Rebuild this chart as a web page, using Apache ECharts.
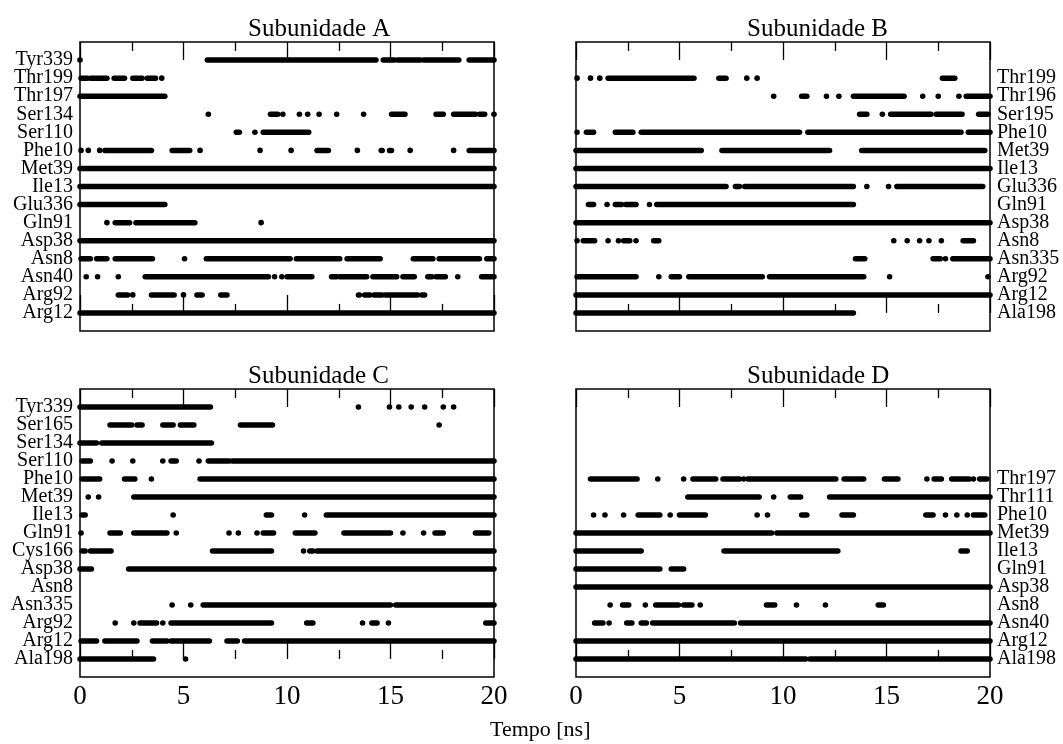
<!DOCTYPE html>
<html>
<head>
<meta charset="utf-8">
<script src="https://cdn.jsdelivr.net/npm/echarts@6/dist/echarts.min.js"></script>
<style>
  html, body { margin: 0; padding: 0; background: #fff; }
  #chart { width: 1063px; height: 744px; }
</style>
</head>
<body>
<div id="chart"></div>
<script>
// residues, listed bottom row first; contacts are [start, end] in ns (start == end is a single frame)
const namesA = ['Arg12', 'Arg92', 'Asn40', 'Asn8', 'Asp38', 'Gln91', 'Glu336', 'Ile13', 'Met39', 'Phe10', 'Ser110', 'Ser134', 'Thr197', 'Thr199', 'Tyr339'];
const contactsA = [
  [[0, 20]],
  [[1.85, 2.3], [2.55, 2.55], [3.45, 4.55], [5.0, 5.0], [5.65, 5.9], [6.8, 7.1], [13.45, 13.5], [13.75, 14.0], [14.2, 14.6], [14.75, 16.3], [16.5, 16.65]],
  [[0.3, 0.3], [0.85, 0.85], [1.85, 1.85], [3.15, 9.1], [9.4, 9.4], [9.75, 9.75], [10.0, 11.2], [12.15, 12.4], [12.55, 13.85], [14.15, 15.3], [15.6, 16.15], [16.8, 17.0], [17.2, 17.65], [18.25, 18.25], [19.4, 20]],
  [[0.05, 0.5], [0.8, 1.3], [1.7, 3.5], [5.05, 5.05], [6.1, 10.15], [10.45, 12.55], [12.9, 14.5], [16.1, 17.05], [17.35, 19.3], [19.65, 20]],
  [[0, 20]],
  [[1.3, 1.3], [1.7, 2.4], [2.7, 5.55], [8.75, 8.75]],
  [[0, 4.1]],
  [[0, 20]],
  [[0, 20]],
  [[0.05, 0.05], [0.4, 0.4], [0.95, 0.95], [1.2, 3.45], [4.45, 5.3], [5.8, 5.8], [8.7, 8.7], [10.2, 10.2], [11.45, 12.0], [13.4, 13.4], [14.55, 14.6], [14.95, 15.05], [15.95, 15.95], [18.05, 18.05], [18.8, 20]],
  [[7.55, 7.7], [8.45, 8.45], [8.85, 11.05]],
  [[6.2, 6.2], [9.2, 9.55], [9.8, 9.8], [10.6, 10.6], [11.0, 11.0], [11.55, 11.55], [12.4, 12.4], [13.7, 13.7], [15.05, 15.7], [17.2, 17.55], [18.05, 19.1], [19.3, 19.55], [20, 20]],
  [[0, 4.1]],
  [[0.05, 0.35], [0.5, 1.3], [1.65, 2.15], [2.55, 3.0], [3.25, 3.65], [3.95, 3.95]],
  [[0, 0], [6.15, 14.3], [14.65, 15.2], [15.35, 16.45], [16.6, 18.3], [18.8, 20]]
];

const namesB = ['Ala198', 'Arg12', 'Arg92', 'Asn335', 'Asn8', 'Asp38', 'Gln91', 'Glu336', 'Ile13', 'Met39', 'Phe10', 'Ser195', 'Thr196', 'Thr199'];
const contactsB = [
  [[0, 13.4]],
  [[0, 20]],
  [[0.05, 2.9], [4.0, 4.0], [4.6, 5.0], [5.45, 9.0], [9.35, 13.9], [15.15, 15.15], [19.9, 19.9]],
  [[13.5, 13.95], [17.25, 17.6], [17.85, 17.85], [18.2, 20]],
  [[0.05, 0.05], [0.35, 0.9], [1.55, 1.55], [2.05, 2.05], [2.3, 2.6], [2.9, 2.9], [3.75, 4.0], [15.35, 15.35], [16.0, 16.0], [16.6, 16.6], [17.05, 17.05], [17.65, 17.65], [18.7, 19.2]],
  [[0, 20]],
  [[0.6, 0.85], [1.5, 1.5], [1.9, 2.2], [2.4, 2.9], [3.55, 3.55], [3.9, 13.4]],
  [[0, 7.25], [7.7, 7.9], [8.15, 13.4], [14.05, 14.05], [15.1, 15.1], [15.5, 19.65]],
  [[0, 20]],
  [[0, 6.05], [7.05, 12.25], [13.8, 19.75]],
  [[0.05, 0.05], [0.5, 0.85], [1.9, 2.75], [3.15, 10.8], [11.2, 18.6], [18.95, 20]],
  [[13.7, 14.05], [14.8, 14.8], [15.2, 17.15], [17.4, 18.65], [19.45, 19.9]],
  [[9.55, 9.55], [10.9, 11.15], [12.1, 12.1], [12.7, 12.7], [13.4, 15.85], [16.75, 16.75], [17.5, 17.5], [18.5, 18.5], [18.85, 20]],
  [[0.05, 0.05], [0.7, 0.7], [1.15, 1.15], [1.55, 5.7], [6.9, 7.25], [8.25, 8.25], [8.75, 8.75], [17.7, 18.3]]
];

const namesC = ['Ala198', 'Arg12', 'Arg92', 'Asn335', 'Asn8', 'Asp38', 'Cys166', 'Gln91', 'Ile13', 'Met39', 'Phe10', 'Ser110', 'Ser134', 'Ser165', 'Tyr339'];
const contactsC = [
  [[0, 3.55], [5.1, 5.1]],
  [[0.05, 0.8], [1.2, 2.75], [3.5, 4.2], [4.4, 6.25], [7.1, 7.6], [7.95, 20]],
  [[1.7, 1.7], [2.6, 2.6], [2.9, 3.7], [4.0, 4.0], [4.4, 9.25], [10.95, 11.25], [13.65, 13.65], [14.1, 14.35], [14.9, 14.9], [19.6, 20]],
  [[4.45, 4.45], [5.35, 5.35], [5.95, 15.0], [15.25, 20]],
  [],
  [[0, 0.55], [2.35, 20]],
  [[0.1, 0.25], [0.5, 1.5], [6.4, 9.25], [10.8, 10.8], [11.1, 11.25], [11.45, 20]],
  [[0.05, 0.05], [1.45, 1.95], [2.6, 4.2], [4.65, 4.65], [7.2, 7.2], [7.65, 7.65], [8.55, 8.55], [8.85, 9.35], [10.4, 11.35], [12.75, 15.0], [15.6, 15.6], [16.6, 16.6], [17.15, 17.55], [19.1, 19.75]],
  [[0.1, 0.25], [4.5, 4.5], [9.0, 9.25], [10.85, 10.85], [11.9, 20]],
  [[0.4, 0.4], [0.9, 0.9], [2.6, 20]],
  [[0.1, 0.95], [2.15, 2.65], [3.45, 3.45], [5.8, 20]],
  [[0.1, 0.5], [1.55, 1.55], [2.55, 2.55], [4.0, 4.0], [4.4, 4.65], [5.75, 5.75], [6.2, 7.2], [7.35, 20]],
  [[0, 0.8], [1.05, 6.35]],
  [[1.45, 2.5], [2.75, 3.0], [4.0, 4.5], [4.85, 5.5], [7.75, 9.3], [17.35, 17.35]],
  [[0, 6.3], [13.45, 13.45], [14.95, 14.95], [15.4, 15.4], [16.0, 16.0], [16.65, 16.65], [17.55, 17.55], [18.05, 18.05]]
];

const namesD = ['Ala198', 'Arg12', 'Asn40', 'Asn8', 'Asp38', 'Gln91', 'Ile13', 'Met39', 'Phe10', 'Thr111', 'Thr197'];
const contactsD = [
  [[0, 11.1], [11.3, 20]],
  [[0, 20]],
  [[0.9, 1.3], [1.6, 1.6], [2.45, 2.7], [3.15, 3.4], [3.7, 7.65], [7.95, 20]],
  [[1.65, 1.65], [2.25, 2.55], [3.35, 3.35], [3.85, 4.95], [5.2, 5.6], [6.0, 6.0], [9.2, 9.6], [10.65, 10.65], [12.05, 12.05], [14.6, 14.85]],
  [[0, 20]],
  [[0, 4.05], [4.6, 5.2]],
  [[0, 3.15], [7.15, 12.65], [18.6, 18.9]],
  [[0, 9.45], [9.7, 20]],
  [[0.85, 0.85], [1.4, 1.4], [2.3, 2.3], [3.0, 4.05], [4.55, 4.55], [5.0, 6.25], [8.75, 8.75], [9.25, 9.25], [10.9, 11.15], [12.85, 13.4], [16.9, 17.25], [17.85, 17.85], [18.4, 18.4], [18.9, 18.9], [19.2, 19.75]],
  [[5.4, 8.85], [9.55, 9.55], [10.35, 10.85], [12.25, 20]],
  [[0.7, 2.95], [3.95, 3.95], [5.2, 5.2], [5.65, 6.75], [7.1, 7.9], [8.1, 8.1], [8.3, 12.55], [12.95, 13.9], [14.9, 15.55], [16.95, 16.95], [17.3, 17.65], [18.15, 19.0], [19.2, 19.2], [19.5, 19.85]]
];

const panelTitles = ['Subunidade A', 'Subunidade B', 'Subunidade C', 'Subunidade D'];
const xLabel = 'Tempo [ns]';

const FONT = 'Liberation Serif';
const panels = [
  { names: namesA, contacts: contactsA, left: 80, top: 42, height: 289, side: 'left', titleLeft: 243, titleTop: 12 },
  { names: namesB, contacts: contactsB, left: 576, top: 42, height: 289, side: 'right', titleLeft: 742, titleTop: 12 },
  { names: namesC, contacts: contactsC, left: 80, top: 389, height: 288, side: 'left', titleLeft: 243, titleTop: 359 },
  { names: namesD, contacts: contactsD, left: 576, top: 389, height: 288, side: 'right', titleLeft: 742, titleTop: 359 }
];

function renderSeg(params, api) {
  const p0 = api.coord([api.value(0), api.value(2)]);
  const p1 = api.coord([api.value(1), api.value(2)]);
  if (p1[0] - p0[0] < 1) {
    return { type: 'circle', shape: { cx: p0[0], cy: p0[1], r: 2.8 }, style: { fill: '#000' } };
  }
  return {
    type: 'line',
    shape: { x1: p0[0], y1: p0[1], x2: p1[0], y2: p1[1] },
    style: { stroke: '#000', lineWidth: 5.5, lineCap: 'round' }
  };
}

const grid = [], xAxis = [], yAxis = [], series = [], title = [];
panels.forEach((p, i) => {
  grid.push({ left: p.left, top: p.top, width: 414, height: p.height, show: true, borderColor: '#000', borderWidth: 1.5, outerBoundsMode: 'none' });
  const tick = { show: true, inside: true, length: 18, lineStyle: { color: '#000', width: 1.3 } };
  const minor = { show: true, splitNumber: 2, length: 9, lineStyle: { color: '#000', width: 1.3 } };
  xAxis.push({
    type: 'value', gridIndex: i, min: 0, max: 20, interval: 5, position: 'bottom',
    axisLine: { show: false }, axisTick: tick, minorTick: minor, splitLine: { show: false },
    axisLabel: { show: i >= 2, color: '#000', fontFamily: FONT, fontSize: 27, margin: 6 }
  });
  xAxis.push({
    type: 'value', gridIndex: i, min: 0, max: 20, interval: 5, position: 'top',
    axisLine: { show: false }, axisTick: tick, minorTick: minor, splitLine: { show: false },
    axisLabel: { show: false }
  });
  yAxis.push({
    type: 'value', gridIndex: i, min: -1, max: 15, interval: 1, position: p.side,
    axisLine: { show: false }, axisTick: { show: false }, splitLine: { show: false },
    axisLabel: {
      color: '#000', fontFamily: FONT, fontSize: 20, margin: 7,
      formatter: v => p.names[v] || ''
    }
  });
  const data = [];
  p.contacts.forEach((row, r) => row.forEach(s => data.push([s[0], s[1], r])));
  series.push({
    type: 'custom', xAxisIndex: i * 2, yAxisIndex: i, renderItem: renderSeg,
    encode: { x: [0, 1], y: 2 }, data: data, silent: true
  });
  title.push({
    text: panelTitles[i], left: p.titleLeft, top: p.titleTop,
    textStyle: { color: '#000', fontFamily: FONT, fontSize: 25, fontWeight: 'normal' }
  });
});
title.push({
  text: xLabel, left: 485, top: 714,
  textStyle: { color: '#000', fontFamily: FONT, fontSize: 22, fontWeight: 'normal' }
});

const chart = echarts.init(document.getElementById('chart'));
chart.setOption({
  backgroundColor: '#fff',
  animation: false,
  title: title,
  grid: grid,
  xAxis: xAxis,
  yAxis: yAxis,
  series: series
});
</script>
</body>
</html>
